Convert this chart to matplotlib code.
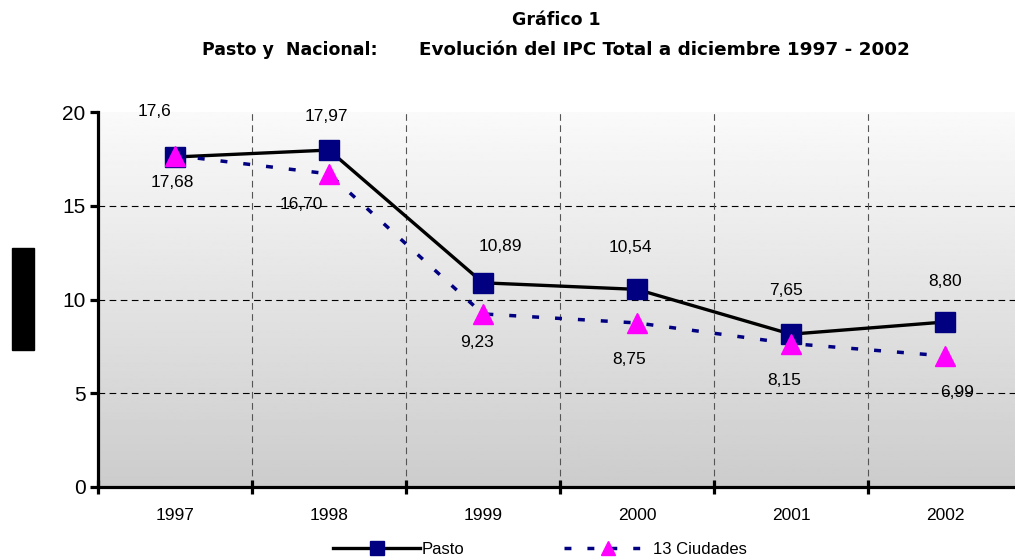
import numpy as np
import matplotlib
matplotlib.use('Agg')
import matplotlib.pyplot as plt
from matplotlib.patches import Rectangle

plt.rcParams['font.family'] = ['Liberation Sans', 'DejaVu Sans']

# data
years = ['1997', '1998', '1999', '2000', '2001', '2002']
pasto = [17.6, 17.97, 10.89, 10.54, 8.15, 8.80]
ciudades = [17.68, 16.70, 9.23, 8.75, 7.65, 6.99]
pasto_txt = ['17,6', '17,97', '10,89', '10,54', '8,15', '8,80']
ciudades_txt = ['17,68', '16,70', '9,23', '8,75', '7,65', '6,99']

# label offsets (pixels) as placed in the original
pasto_off = [(-20, 46), (-3, 34), (17, 36), (-7, 42), (-7, -46), (0, 41)]
ciudades_off = [(-3, -27), (-28, -31), (-6, -29), (-8, -37), (-5, 53), (12, -37)]

fig = plt.figure(figsize=(10.15, 5.59), dpi=100)
ax = fig.add_axes([98/1015, 72/559, 1 - 98/1015, 375/559])

x = np.arange(len(years))
ax.set_xlim(-0.5, 5.455)
ax.set_ylim(0, 20)

# gradient background (light at top, darker at bottom)
grad = np.linspace(0.98, 0.80, 256).reshape(-1, 1)
ax.imshow(grad, cmap='gray', vmin=0, vmax=1, aspect='auto', origin='upper',
          extent=[-0.5, 5.455, 0, 20], zorder=0)

for yv in [5, 10, 15]:
    ax.axhline(yv, color='black', lw=0.8, ls=(0, (6, 4)), zorder=1)
for xv in np.arange(0.5, 5.0, 1):
    ax.axvline(xv, color='#555555', lw=0.8, ls=(0, (6, 4)), zorder=1)

ax.plot(x, pasto, color='black', lw=2.4, marker='s', ms=15,
        mfc='#000080', mec='#000080', zorder=3, label='Pasto')
ax.plot(x, ciudades, color='#000080', lw=2.5, ls=(0, (2.0, 4.6)), marker='^',
        ms=15, mfc='#FF00FF', mec='#FF00FF', zorder=4, label='13 Ciudades')

for i in range(len(years)):
    ax.annotate(pasto_txt[i], (x[i], pasto[i]), xytext=pasto_off[i],
                textcoords='offset pixels', ha='center', va='center', fontsize=12.5, zorder=5)
    ax.annotate(ciudades_txt[i], (x[i], ciudades[i]), xytext=ciudades_off[i],
                textcoords='offset pixels', ha='center', va='center', fontsize=12.5, zorder=5)

for s in ['top', 'right']:
    ax.spines[s].set_visible(False)
for s in ['left', 'bottom']:
    ax.spines[s].set_linewidth(2.3)

ax.set_yticks([0, 5, 10, 15, 20])
ax.tick_params(axis='y', labelsize=15, width=2.3, length=6, direction='out', pad=3)
ax.set_xticks(np.arange(-0.5, 5.5, 1))
ax.set_xticklabels([])
ax.tick_params(axis='x', which='major', width=2.3, length=10, direction='inout')
ax.set_xticks(x, minor=True)
ax.set_xticklabels(years, minor=True)
ax.tick_params(axis='x', which='minor', length=0, labelsize=12.5, pad=15)

fig.text(556/1015, 1 - 20/559, 'Gráfico 1', ha='center', va='center',
         fontsize=12.5, fontweight='bold', family='DejaVu Sans')
fig.text(290/1015, 1 - 50/559, 'Pasto y  Nacional:', ha='center', va='center',
         fontsize=12.5, fontweight='bold', family='DejaVu Sans')
fig.text(664/1015, 1 - 50/559, 'Evolución del IPC Total a diciembre 1997 - 2002',
         ha='center', va='center', fontsize=13.2, fontweight='bold', family='DejaVu Sans')

fig.patches.append(Rectangle((12/1015, 1 - 350/559), 22/1015, 102/559,
                             transform=fig.transFigure, color='black'))

fig.legend(loc='center', bbox_to_anchor=(540/1015, 1 - 549/559), ncol=2,
           frameon=False, fontsize=12, handlelength=5.2, columnspacing=6,
           handletextpad=0.1, markerscale=0.7)

fig.savefig('out.png', dpi=100)
